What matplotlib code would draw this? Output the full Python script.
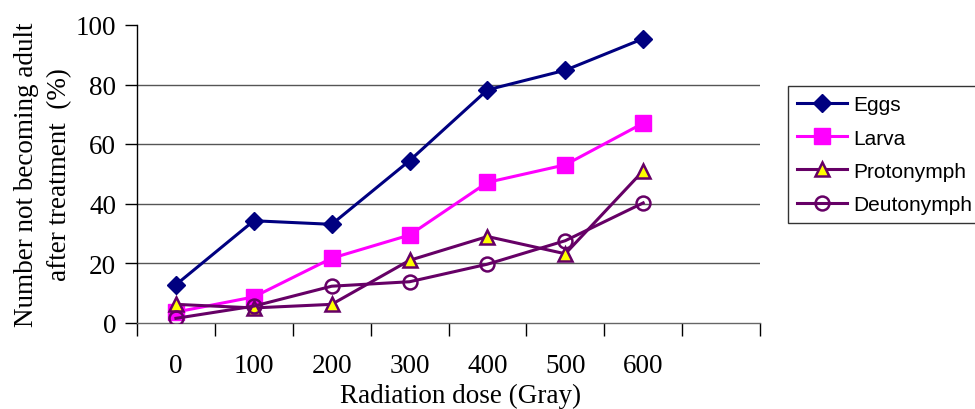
import numpy as np
import matplotlib
matplotlib.use('Agg')
import matplotlib.pyplot as plt

# data
doses = ['0', '100', '200', '300', '400', '500', '600']
eggs = [12.7, 34.2, 33.0, 54.4, 78.2, 84.8, 95.4]
larva = [3.5, 8.6, 21.6, 29.4, 47.1, 53.0, 67.0]
protonymph = [6.1, 4.9, 6.1, 20.9, 28.9, 23.1, 51.0]
deutonymph = [1.4, 5.5, 12.2, 13.7, 19.6, 27.5, 40.2]

serif = 'Liberation Serif'
sans = 'Liberation Sans'
purple = '#660066'
fs = 19.5

fig = plt.figure(figsize=(9.75, 4.1), dpi=100)
ax = fig.add_axes([137 / 975, 1 - 323.5 / 410, (760 - 137) / 975, (323.5 - 26) / 410])

x = np.arange(len(doses))
ax.plot(x, eggs, '-D', color='#000080', lw=2.2, ms=9, mec='#000080', label='Eggs', zorder=3)
ax.plot(x, larva, '-s', color='#FF00FF', lw=2.2, ms=11, mec='#FF00FF', label='Larva', zorder=3)
ax.plot(x, protonymph, '-^', color=purple, lw=2.2, ms=10, mfc='#FFFF00', mec=purple, mew=1.8,
        label='Protonymph', zorder=4)
ax.plot(x, deutonymph, '-o', color=purple, lw=2.2, ms=10, mfc='none', mec=purple, mew=1.8,
        label='Deutonymph', zorder=4)

ax.set_xlim(-0.5, 7.5)
ax.set_ylim(0, 100)

# gridlines at 20..80 only
for v in [20, 40, 60, 80]:
    ax.axhline(v, color='#555555', lw=1, zorder=1)

ax.set_yticks([0, 20, 40, 60, 80, 100])
ax.set_yticklabels(['0', '20', '40', '60', '80', '100'], fontfamily=serif, fontsize=fs)
ax.set_xticks(x)
ax.set_xticklabels(doses, fontfamily=serif, fontsize=fs)
ax.set_xticks(np.arange(-0.5, 8.0, 1.0), minor=True)
ax.tick_params(axis='x', which='major', length=0, pad=22)
ax.tick_params(axis='x', which='minor', length=9, width=1, color='black', direction='out')
ax.tick_params(axis='y', length=9, width=1, direction='out', pad=6)

for s in ['top', 'right']:
    ax.spines[s].set_visible(False)
ax.spines['left'].set_linewidth(1)
ax.spines['bottom'].set_linewidth(1)
ax.spines['bottom'].set_color('#666666')

fig.text(461 / 975, 1 - 403 / 410, 'Radiation dose (Gray)', fontfamily=serif, fontsize=fs,
         ha='center', va='baseline')
fig.text(43 / 975, 1 - 174.5 / 410, 'Number not becoming adult\nafter treatment  (%)',
         fontfamily=serif, fontsize=fs, rotation=90, ha='center', va='center',
         multialignment='center', linespacing=1.4)

leg = ax.legend(loc='upper left', bbox_to_anchor=(788 / 975, 1 - 87 / 410),
                bbox_transform=fig.transFigure, borderaxespad=0, frameon=True,
                fancybox=False, prop={'family': sans, 'size': 15}, handlelength=2.4,
                handletextpad=0.3, borderpad=0.45, labelspacing=0.68, numpoints=1)
leg.get_frame().set_edgecolor('black')
leg.get_frame().set_linewidth(1)

fig.savefig('out.png', dpi=100)
